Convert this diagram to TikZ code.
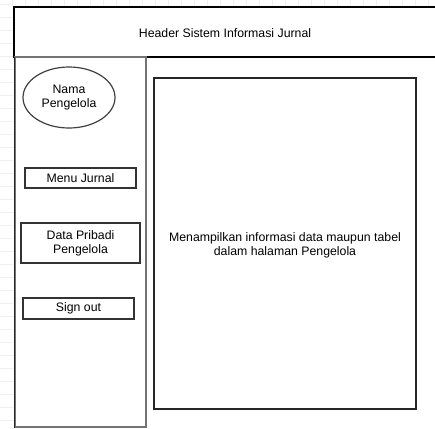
\documentclass[tikz,border=0pt]{standalone}
\usepackage{fontspec}
\setmainfont{Liberation Sans}
\usetikzlibrary{shapes.geometric}
\begin{document}
\begin{tikzpicture}[x=1pt,y=-1pt,
  every node/.style={font=\fontsize{12.3}{14}\selectfont, align=center},
  frame/.style={draw=black, line width=1.2pt, fill=white},
  side/.style={draw=black!55, line width=1.8pt},
  btn/.style={draw=black!80, line width=1.2pt, fill=white},
  gridline/.style={draw=black!6, line width=0.6pt},
]
\useasboundingbox (0,0) rectangle (435,428);
\fill[white] (0,0) rectangle (435,428);
\foreach \i in {0,...,33} {\draw[gridline] (\i*13+12,0) -- (\i*13+12,7);}
\foreach \j in {0,...,33} {\draw[gridline] (0,\j*13+4) -- (14,\j*13+4);}
% header
\path[frame] (14,7) rectangle (440,57);
\node (hdr) at (225,33) {Header Sistem Informasi Jurnal};
% sidebar
\draw[side] (15,57) rectangle (146,427);
\draw[black!85, line width=1pt] (14,57) -- (14,428);
% main content
\draw[black!85, line width=1.2pt] (154,78) rectangle (416,409);
\node (main) at (285,245) {Menampilkan informasi data maupun tabel\\dalam halaman Pengelola};
% ellipse
\node[ellipse, draw=black!75, line width=1.2pt, minimum width=92, minimum height=61, inner sep=0] (nama) at (69,97.5) {Nama\\Pengelola};
% buttons
\node[btn, minimum width=111, minimum height=20, inner sep=0] (menu) at (80.5,178) {Menu Jurnal};
\node[btn, minimum width=119, minimum height=40, inner sep=0] (data) at (80.5,243) {Data Pribadi\\Pengelola};
\node[btn, minimum width=111, minimum height=21, inner sep=0] (sign) at (78.5,308.5) {Sign out};
\end{tikzpicture}
\end{document}
